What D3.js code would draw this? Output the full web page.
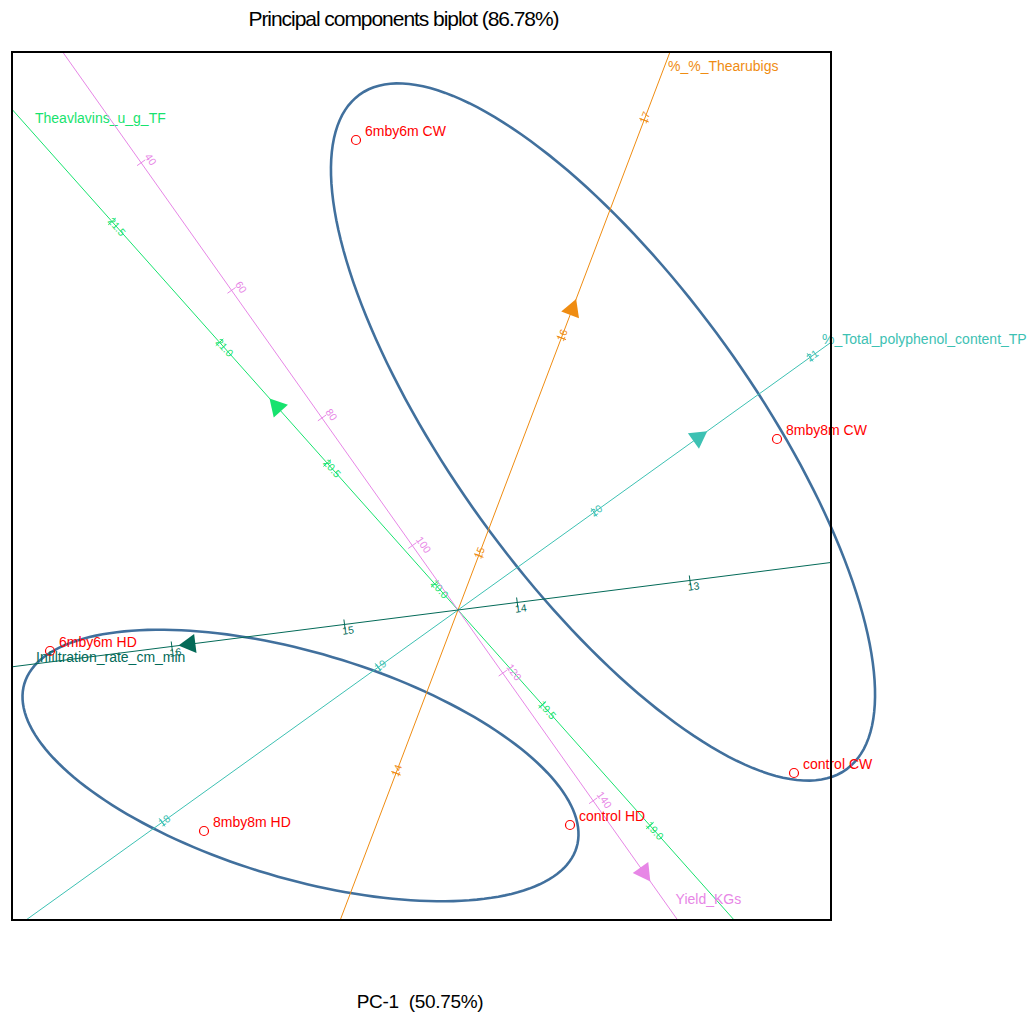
<!DOCTYPE html>
<html>
<head>
<meta charset="utf-8">
<script src="https://cdn.jsdelivr.net/npm/d3@7"></script>
<style>
  body { margin: 0; background: #fff; }
  text { font-family: "Liberation Sans", Arial, sans-serif; }
</style>
</head>
<body>
<svg width="1035" height="1015"></svg>
<script>
// sample scores (PC-1, PC-2)
const pointNames = ["6mby6m CW", "8mby8m CW", "control CW", "control HD", "8mby8m HD", "6mby6m HD"];
const pc1 = [-1.02, 3.19, 3.36, 1.12, -2.54, -4.08];
const pc2 = [4.70, 1.71, -1.63, -2.15, -2.21, -0.41];

// calibrated variable axes: value at the origin and score shift per unit of the variable
const varNames = ["Theavlavins_u_g_TF", "Yield_KGs", "%_%_Thearubigs", "%_Total_polyphenol_content_TP", "Infiltration_rate_cm_min"];
const varCentre = [19.892, 110.1, 14.75, 19.37, 14.343];
const varStepX = [-2.152, 0.0452, 0.827, 2.16, -1.727];
const varStepY = [2.416, -0.0638, 2.177, 1.55, -0.22];
const varTicks = [
  [19.0, 19.5, 20.0, 20.5, 21.0, 21.5],
  [40, 60, 80, 100, 120, 140],
  [14, 15, 16, 17],
  [18, 19, 20, 21],
  [13, 14, 15, 16]
];
const varArrow = [20.74, 151.5, 16.14, 20.49, 15.91];
const varTickFormat = [".1f", "d", "d", "d", "d"];

// group ellipses (centre, semi-axes, rotation in degrees)
const groupNames = ["CW", "HD"];
const ellCx = [1.45, -1.575];
const ellCy = [1.78, -1.555];
const ellA = [4.16, 2.88];
const ellB = [1.50, 1.13];
const ellAngle = [-54.2, -16.5];

const title = "Principal components biplot (86.78%)";
const xTitle = "PC-1  (50.75%)";

// ---- layout / style
const svg = d3.select("svg");
const frame = { left: 12, right: 831, top: 52, bottom: 920 };
const x = d3.scaleLinear().domain([-4.46, 3.73]).range([frame.left, frame.right]);
const y = d3.scaleLinear().domain([-3.10, 5.58]).range([frame.bottom, frame.top]);

const varColors = ["#17e36e", "#e786e6", "#ef8c12", "#3dc1b3", "#036a58"];
const tickLabelY = [3.5, -6, 3.5, 3.5, 10];
const nameNudge = [[23, 14], [-2, -16], [-2, 19], [-9, 2], [24, -5]];

svg.append("defs").append("clipPath").attr("id", "clip")
  .append("rect")
  .attr("x", frame.left).attr("y", frame.top)
  .attr("width", frame.right - frame.left)
  .attr("height", frame.bottom - frame.top);

// ---- ellipses
const ellG = svg.append("g");
groupNames.forEach((g, i) => {
  const th = ellAngle[i] * Math.PI / 180;
  const pts = d3.range(0, 361, 2).map(deg => {
    const t = deg * Math.PI / 180;
    const ex = ellA[i] * Math.cos(t), ey = ellB[i] * Math.sin(t);
    return [ellCx[i] + ex * Math.cos(th) - ey * Math.sin(th),
            ellCy[i] + ex * Math.sin(th) + ey * Math.cos(th)];
  });
  ellG.append("path")
    .attr("d", d3.line().x(d => x(d[0])).y(d => y(d[1]))(pts) + "Z")
    .attr("fill", "none")
    .attr("stroke", "#41709d")
    .attr("stroke-width", 2.6);
});

// ---- variable axes
const axG = svg.append("g");
varNames.forEach((name, i) => {
  const sx = varStepX[i], sy = varStepY[i];
  const pos = v => [(v - varCentre[i]) * sx, (v - varCentre[i]) * sy];
  // where the line leaves the frame
  let tLo = -Infinity, tHi = Infinity;
  [[sx, x.domain()], [sy, y.domain()]].forEach(([s, dom]) => {
    const a = dom[0] / s, b = dom[1] / s;
    tLo = Math.max(tLo, Math.min(a, b));
    tHi = Math.min(tHi, Math.max(a, b));
  });
  const col = varColors[i];
  const g = axG.append("g");
  g.append("line")
    .attr("clip-path", "url(#clip)")
    .attr("x1", x(tLo * sx)).attr("y1", y(tLo * sy))
    .attr("x2", x(tHi * sx)).attr("y2", y(tHi * sy))
    .attr("stroke", col).attr("stroke-width", 1);

  // screen direction of increasing value
  const px = x(sx) - x(0), py = y(sy) - y(0);
  const len = Math.hypot(px, py);
  const ux = px / len, uy = py / len;
  let ang = Math.atan2(uy, ux) * 180 / Math.PI;
  if (ux < 0) ang += 180;
  if (ang > 180) ang -= 360;

  const fmt = d3.format(varTickFormat[i]);
  varTicks[i].forEach(v => {
    const [dx, dy] = pos(v);
    const cx = x(dx), cy = y(dy);
    g.append("line")
      .attr("x1", cx - uy * 5).attr("y1", cy + ux * 5)
      .attr("x2", cx + uy * 5).attr("y2", cy - ux * 5)
      .attr("stroke", col);
    g.append("text")
      .attr("transform", `translate(${cx},${cy}) rotate(${ang})`)
      .attr("x", -3).attr("y", tickLabelY[i])
      .attr("font-size", 10.5)
      .attr("fill", col)
      .text(fmt(v));
  });

  // arrow head
  const [adx, ady] = pos(varArrow[i]);
  const ax = x(adx), ay = y(ady);
  const tri = [
    [ax + ux * 9, ay + uy * 9],
    [ax - ux * 8 - uy * 9.5, ay - uy * 8 + ux * 9.5],
    [ax - ux * 8 + uy * 9.5, ay - uy * 8 - ux * 9.5]
  ];
  g.append("path")
    .attr("d", "M" + tri.join("L") + "Z")
    .attr("fill", col);

  // name at the end where values increase
  const tEnd = (varArrow[i] - varCentre[i]) > 0 ? tHi : tLo;
  g.append("text")
    .attr("x", x(tEnd * sx) + nameNudge[i][0])
    .attr("y", y(tEnd * sy) + nameNudge[i][1])
    .attr("font-size", 14)
    .attr("fill", col)
    .text(name);
});

// ---- sample points
const ptG = svg.append("g");
pointNames.forEach((n, i) => {
  ptG.append("circle")
    .attr("cx", x(pc1[i])).attr("cy", y(pc2[i]))
    .attr("r", 4.5)
    .attr("fill", "none")
    .attr("stroke", "#ff0000")
    .attr("stroke-width", 1.2);
  ptG.append("text")
    .attr("x", x(pc1[i]) + 9).attr("y", y(pc2[i]) - 4)
    .attr("font-size", 14)
    .attr("fill", "#ff0000")
    .text(n);
});

// ---- frame and titles
svg.append("rect")
  .attr("x", frame.left).attr("y", frame.top)
  .attr("width", frame.right - frame.left)
  .attr("height", frame.bottom - frame.top)
  .attr("fill", "none")
  .attr("stroke", "#000")
  .attr("stroke-width", 2);

svg.append("text")
  .attr("x", 403.5).attr("y", 26)
  .attr("text-anchor", "middle")
  .attr("font-size", 21)
  .attr("letter-spacing", -1.05)
  .attr("fill", "#000")
  .text(title);

svg.append("text")
  .attr("x", 420).attr("y", 1008)
  .attr("text-anchor", "middle")
  .attr("font-size", 19)
  .attr("letter-spacing", -0.3)
  .style("white-space", "pre")
  .attr("fill", "#000")
  .text(xTitle);
</script>
</body>
</html>
